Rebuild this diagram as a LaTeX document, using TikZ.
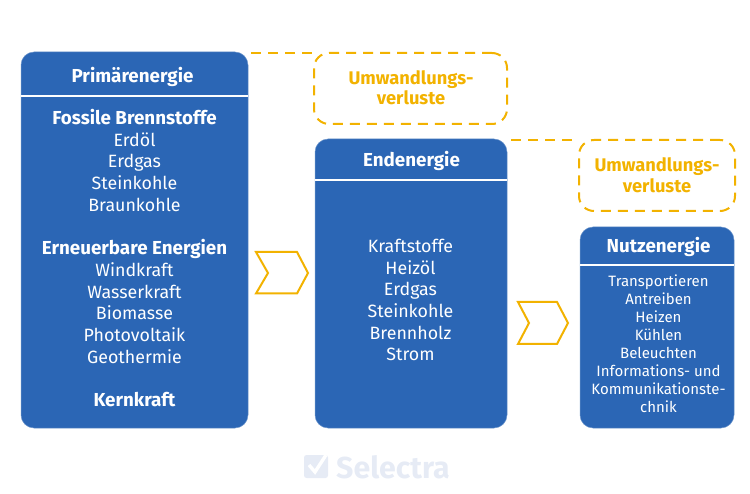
\documentclass[tikz,border=0pt]{standalone}
\usepackage{fontspec}
\setmainfont{Fira Sans}
\definecolor{boxblue}{HTML}{2B66B5}
\definecolor{gold}{HTML}{F2B200}
\definecolor{wm}{HTML}{E6EBF5}
\newcommand{\bighead}[1]{{\fontsize{18.8}{21.7}\selectfont\bfseries #1}}
\tikzset{
  panel/.style={fill=boxblue,draw=boxblue!70!white,line width=0.5pt,rounded corners=13pt,minimum width=#1,inner sep=0pt,outer sep=0pt,anchor=north west},
  loss/.style={draw=gold,line width=2pt,dash pattern=on 10pt off 7pt,rounded corners=15pt,inner sep=0pt,outer sep=0pt,anchor=north west},
  losstext/.style={align=center,anchor=center,inner sep=0pt,text=gold,font=\fontsize{18.3}{20.5}\selectfont\bfseries},
  lossline/.style={draw=gold,line width=2pt,dash pattern=on 10pt off 7pt},
  divider/.style={draw=white,line width=2.6pt},
  head/.style={text=white,font=\fontsize{18.8}{20}\selectfont\bfseries,anchor=center,inner sep=0pt},
  body/.style={text=white,align=center,anchor=center,inner sep=0pt},
  chev/.style={draw=gold,line width=2pt,miter limit=10,line join=miter},
}
\begin{document}
\begin{tikzpicture}[x=1pt,y=-1pt]
\useasboundingbox (0,0) rectangle (750,494);
% panels
\node[panel=227pt,minimum height=376pt] (prim) at (21,52) {};
\node[panel=192pt,minimum height=289pt] (ende) at (315,139) {};
\node[panel=154pt,minimum height=201pt] (nutz) at (580,227) {};
\coordinate (pl) at (21,96); \coordinate (pr) at (248,96);
\coordinate (el) at (315,180); \coordinate (er) at (507,180);
\coordinate (nl) at (580,265); \coordinate (nr) at (734,265);
\draw[divider] (pl) -- (pr);
\draw[divider] (el) -- (er);
\draw[divider] (nl) -- (nr);
% headings
\node[head] (primh) at (132.5,76.5) {Primärenergie};
\node[head] (endeh) at (411.5,161) {Endenergie};
\node[head] (nutzh) at (658.5,246.5) {Nutzenergie};
% bodies
\node[body,font=\fontsize{17.8}{21.7}\selectfont] (primb) at (134.5,258) {%
\bighead{Fossile Brennstoffe}\\Erdöl\\Erdgas\\Steinkohle\\Braunkohle\\[21.7pt]
\bighead{Erneuerbare Energien}\\Windkraft\\Wasserkraft\\Biomasse\\Photovoltaik\\Geothermie\\[21.7pt]
\bighead{Kernkraft}};
\node[body,font=\fontsize{17.8}{21.7}\selectfont] (endeb) at (410.5,300) {Kraftstoffe\\Heizöl\\Erdgas\\Steinkohle\\Brennholz\\Strom};
\node[body,font=\fontsize{15}{18}\selectfont] (nutzb) at (658.5,344) {Transportieren\\Antreiben\\Heizen\\Kühlen\\Beleuchten\\Informations- und\\Kommunikationste-\\chnik};
% losses
\node[loss,minimum width=193pt,minimum height=71pt] (loss1) at (314,53) {};
\node[loss,minimum width=156pt,minimum height=71pt] (loss2) at (579,140) {};
\node[losstext] (loss1t) at (411,87.5) {Umwandlungs-\\verluste};
\node[losstext] (loss2t) at (657,175) {Umwandlungs-\\verluste};
\coordinate (d1) at (251,53);
\coordinate (d2) at (511,140);
\draw[lossline] (d1) -- (loss1.north west);
\draw[lossline] (d2) -- (loss2.north west);
% chevrons
\draw[chev] (256,252) coordinate (c1) -- (297,252) -- (308,273) -- (297,293.5) -- (256,293.5) -- (268,273) -- cycle;
\draw[chev] (518,302) coordinate (c2) -- (557,302) -- (568,323) -- (557,344) -- (518,344) -- (529,323) -- cycle;
% watermark
\fill[wm,rounded corners=2.5pt] (304,455) rectangle (328,478);
\draw[white,line width=3.4pt] (309,465) -- (315,472) -- (326,455);
\node[text=wm,font=\fontsize{30.3}{32}\selectfont\bfseries,anchor=west,inner sep=0pt] (logo) at (336,467.5) {Selectra};
\end{tikzpicture}
\end{document}
